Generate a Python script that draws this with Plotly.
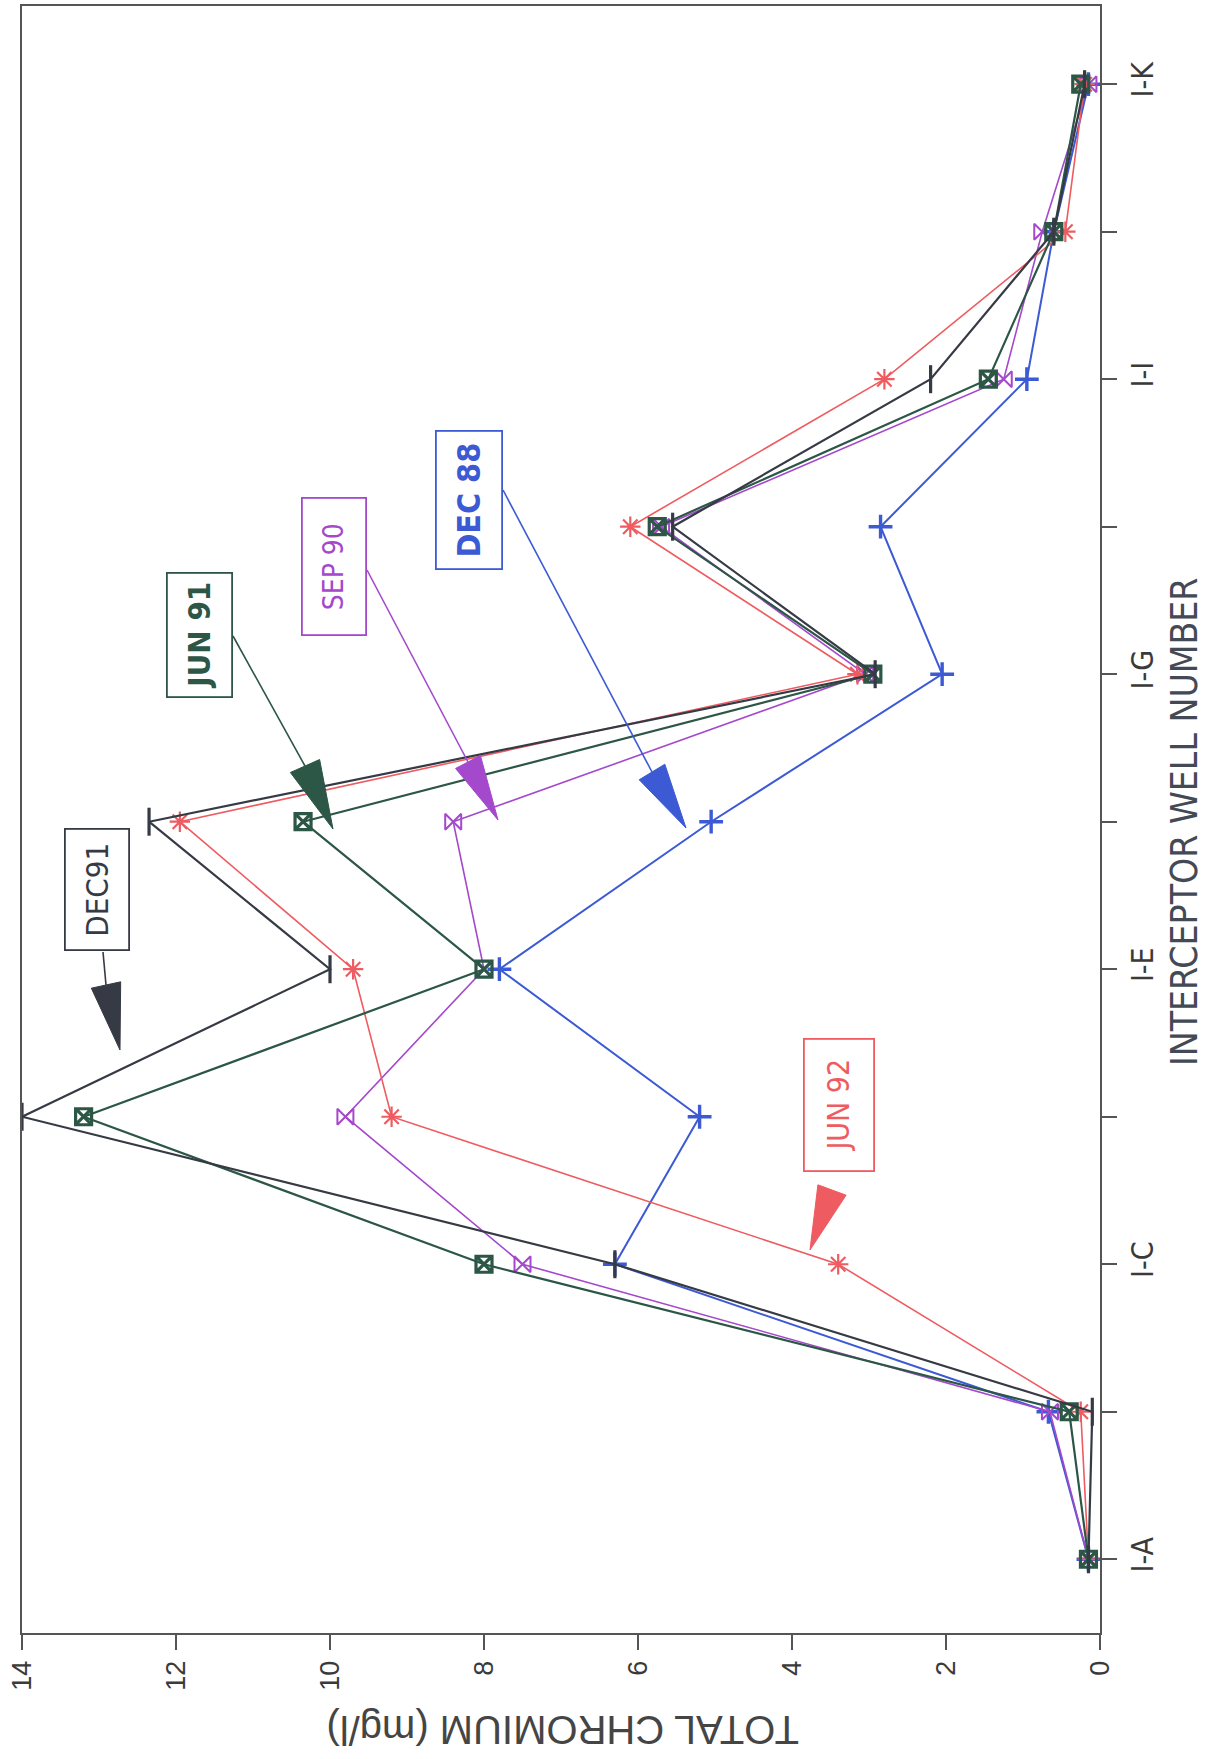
import plotly.graph_objects as go

# ---------------- data ----------------
wells = ['I-A', 'I-B', 'I-C', 'I-D', 'I-E', 'I-F', 'I-G', 'I-H', 'I-I', 'I-J', 'I-K']
well_labels = ['I-A', '', 'I-C', '', 'I-E', '', 'I-G', '', 'I-I', '', 'I-K']
value_ticks = [0, 2, 4, 6, 8, 10, 12, 14]

dec88 = [0.15, 0.67, 6.3, 5.2, 7.8, 5.05, 2.05, 2.85, 0.95, 0.6, 0.15]
sep90 = [0.15, 0.65, 7.5, 9.8, 8.0, 8.4, 3.05, 5.7, 1.25, 0.75, 0.15]
jun92 = [0.15, 0.25, 3.4, 9.2, 9.7, 11.95, 3.15, 6.1, 2.8, 0.45, 0.2]
jun91 = [0.15, 0.40, 8.0, 13.2, 8.0, 10.35, 2.95, 5.75, 1.45, 0.6, 0.25]
dec91 = [0.15, 0.10, 6.3, 14.0, 10.0, 12.35, 2.92, 5.55, 2.2, 0.6, 0.2]

series_names = ['DEC 88', 'SEP 90', 'JUN 92', 'JUN 91', 'DEC91']
series_values = [dec88, sep90, jun92, jun91, dec91]

# ---------------- styles ----------------
C_DEC91 = '#363a44'
C_JUN91 = '#2c5646'
C_SEP90 = '#a448cc'
C_DEC88 = '#3c5ad4'
C_JUN92 = '#ee5b60'
series_colors = [C_DEC88, C_SEP90, C_JUN92, C_JUN91, C_DEC91]
series_symbols = ['cross-thin', 'bowtie-open', 'asterisk', 'square-x-open', 'line-ns']
series_msize = [17, 16, 17, 16, 20]
series_mline = [3.4, 2.0, 2.2, 3.2, 3.2]
series_lwidth = [2.0, 1.6, 1.6, 2.2, 2.2]

COND = 'Liberation Sans Narrow, DejaVu Sans Condensed, Roboto Condensed, Arial Narrow, Roboto, sans-serif'
SANS = 'Liberation Sans, Arial, Helvetica, sans-serif'

W, H = 1218, 1759
ML, MR, MT, MB = 22, 118, 6, 126
PW = W - ML - MR
PH = H - MT - MB


def pxx(x):
    return (x - ML) / PW


def pxy(y):
    return (H - MB - y) / PH


fig = go.Figure()
idx = list(range(len(wells)))
for name, vals, col, sym, ms, mlw, lw in zip(series_names, series_values, series_colors,
                                            series_symbols, series_msize, series_mline, series_lwidth):
    fig.add_trace(go.Scatter(
        x=vals, y=idx, name=name, mode='lines+markers',
        line=dict(color=col, width=lw),
        marker=dict(symbol=sym, size=ms, color=col, line=dict(color=col, width=mlw)),
        showlegend=False,
    ))

# ---------------- label boxes ----------------
labels = [
    # text, color, center px, font size, bold, box length, box thickness
    ('DEC91', C_DEC91, (97, 890), 31, False, 123, 66),
    ('JUN 91', C_JUN91, (200, 635), 31, True, 126, 67),
    ('SEP 90', C_SEP90, (334, 567), 28, False, 139, 66),
    ('DEC 88', C_DEC88, (469, 500), 32, True, 140, 68),
    ('JUN 92', C_JUN92, (839, 1105), 30, False, 134, 72),
]
annotations = []
for text, col, (cx, cy), fs, bold, bh, bw in labels:
    annotations.append(dict(
        x=pxx(cx), y=pxy(cy), xref='paper', yref='paper', showarrow=False,
        text=('<b>%s</b>' % text) if bold else text, textangle=-90,
        font=dict(family=COND, size=fs, color=col),
        bordercolor=col, borderwidth=1.8, borderpad=0,
        width=bh - 4, height=bw - 4, align='center', valign='middle',
        xanchor='center', yanchor='middle',
    ))

# axis titles
annotations.append(dict(
    x=pxx(1184), y=pxy(822), xref='paper', yref='paper', showarrow=False,
    text='INTERCEPTOR WELL NUMBER', textangle=-90,
    font=dict(family=COND, size=37, color='#444a55'),
    xanchor='center', yanchor='middle'))
annotations.append(dict(
    x=pxx(563), y=pxy(1730), xref='paper', yref='paper', showarrow=False,
    text='TOTAL CHROMIUM (mg/l)', textangle=180,
    font=dict(family=SANS, size=40, color='#454545'),
    xanchor='center', yanchor='middle'))

# ---------------- arrows (line + elongated triangle head) ----------------
arrows = [
    # color, tail start px, base center px, tip px, half width
    (C_DEC91, (103, 952), (106, 985), (120, 1050), 15),
    (C_JUN91, (233, 636), (305, 766), (333, 829), 16),
    (C_SEP90, (367, 570), (468, 762), (498, 820), 14),
    (C_DEC88, (503, 490), (652, 772), (686, 828), 15),
    (C_JUN92, None, (832, 1190), (810, 1250), 15),
]
shapes = []
for col, start, base, tip, hw in arrows:
    if start is not None:
        shapes.append(dict(type='line', xref='paper', yref='paper',
                           x0=pxx(start[0]), y0=pxy(start[1]), x1=pxx(base[0]), y1=pxy(base[1]),
                           line=dict(color=col, width=1.6)))
    dx, dy = tip[0] - base[0], tip[1] - base[1]
    ln = (dx * dx + dy * dy) ** 0.5
    nx, ny = -dy / ln, dx / ln
    p1 = (base[0] + nx * hw, base[1] + ny * hw)
    p2 = (base[0] - nx * hw, base[1] - ny * hw)
    path = 'M %f,%f L %f,%f L %f,%f Z' % (pxx(p1[0]), pxy(p1[1]), pxx(p2[0]), pxy(p2[1]),
                                          pxx(tip[0]), pxy(tip[1]))
    shapes.append(dict(type='path', xref='paper', yref='paper', path=path,
                       fillcolor=col, line=dict(color=col, width=1)))

fig.update_layout(
    width=W, height=H,
    margin=dict(l=ML, r=MR, t=MT, b=MB, autoexpand=False),
    paper_bgcolor='white', plot_bgcolor='white',
    annotations=annotations, shapes=shapes,
    xaxis=dict(
        range=[14, 0], tickvals=value_ticks, ticktext=[str(v) for v in value_ticks],
        tickangle=-90, ticks='outside', ticklen=15, tickwidth=1.5, tickcolor='#555',
        showline=True, linecolor='#555', linewidth=2, mirror=True,
        showgrid=False, zeroline=False,
        tickfont=dict(family=SANS, size=27, color='#3a3a3a'),
    ),
    yaxis=dict(
        range=[-0.5, 10.53], tickvals=idx, ticktext=well_labels, side='right',
        tickangle=-90, ticks='outside', ticklen=15, tickwidth=1.5, tickcolor='#555',
        showline=True, linecolor='#555', linewidth=2, mirror=True,
        showgrid=False, zeroline=False,
        tickfont=dict(family=COND, size=30, color='#3a3a3a'),
    ),
)

fig.write_html('out.html', config={'displayModeBar': False},
               post_script="document.body.style.margin='0';")
